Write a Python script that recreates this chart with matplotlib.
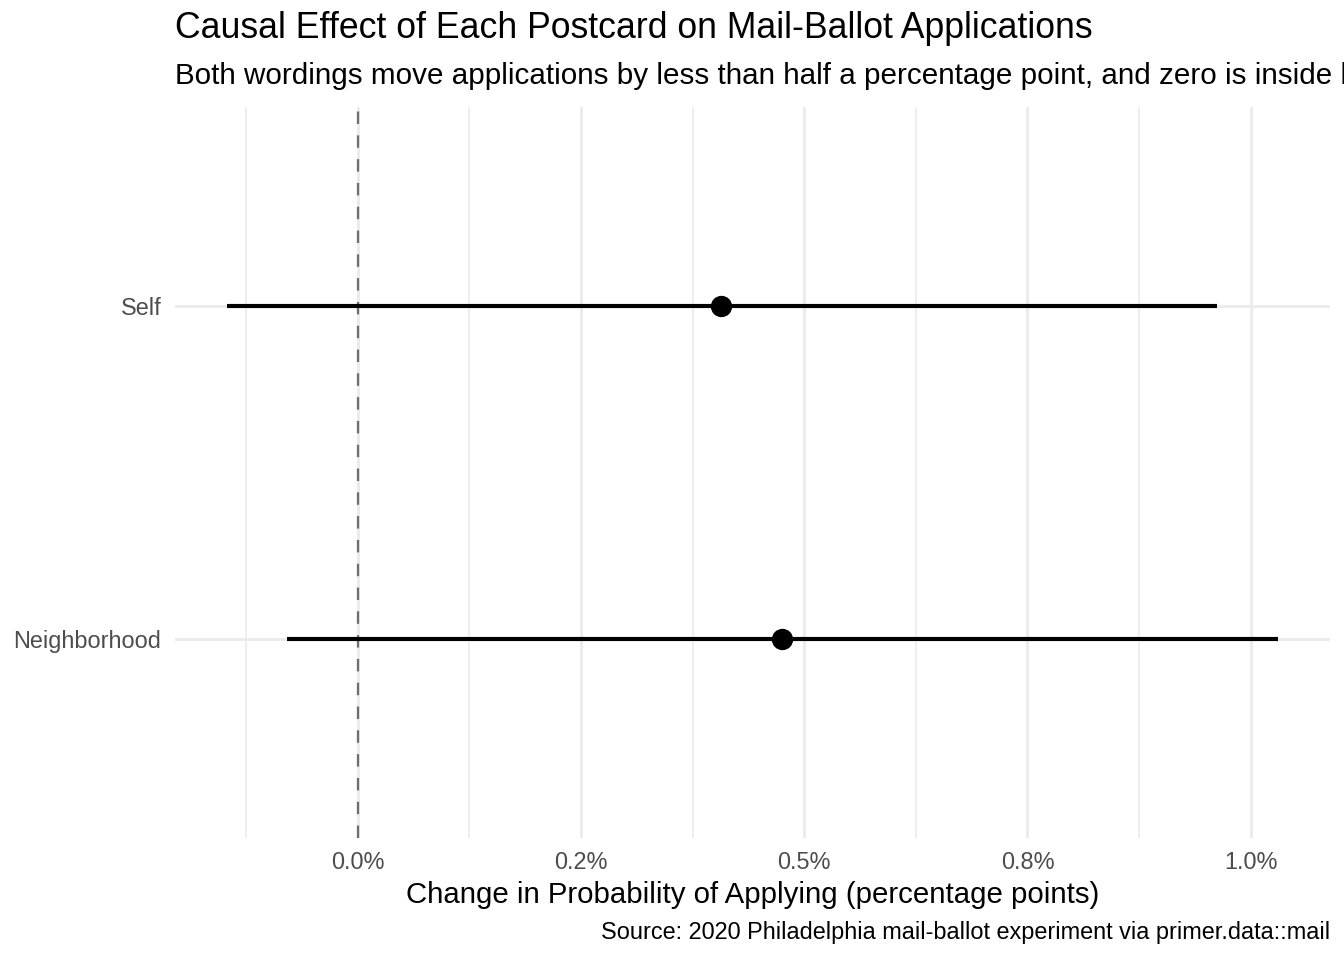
import numpy as np
import matplotlib.pyplot as plt
from matplotlib.ticker import FuncFormatter, MultipleLocator

# Estimates and 95% intervals, in percentage points
wordings = ["Neighborhood", "Self"]
estimate = [0.475, 0.407]
ci_low = [-0.079, -0.146]
ci_high = [1.030, 0.962]

plt.rcParams["font.family"] = ["Liberation Sans", "DejaVu Sans"]

fig = plt.figure(figsize=(7, 5), dpi=192)
ax = fig.add_axes([0.130, 0.127, 0.8596, 0.7615])

ypos = np.arange(1, len(wordings) + 1)

# gridlines (ggplot theme_minimal look)
ax.set_axisbelow(True)
ax.xaxis.set_major_locator(MultipleLocator(0.25))
ax.xaxis.set_minor_locator(MultipleLocator(0.125))
ax.grid(True, which="major", axis="both", color="#EBEBEB", linewidth=1.07)
ax.grid(True, which="minor", axis="x", color="#EBEBEB", linewidth=0.6)

ax.axvline(0, color="#6E6E6E", linewidth=0.85, linestyle=(0, (5.5, 5)), zorder=2)

ax.hlines(ypos, ci_low, ci_high, color="black", linewidth=1.55, zorder=3)
ax.plot(estimate, ypos, "o", color="black", markersize=7, zorder=4)

span = max(ci_high) - min(ci_low)
ax.set_xlim(min(ci_low) - 0.05 * span, max(ci_high) + 0.05 * span)
ax.set_ylim(0.4, len(wordings) + 0.6)
ax.set_yticks(ypos)
ax.set_yticklabels(wordings)
ax.xaxis.set_major_formatter(FuncFormatter(lambda v, p: f"{v:.1f}%"))

ax.tick_params(axis="both", which="both", length=0, labelsize=8.8, labelcolor="#4D4D4D")
ax.tick_params(axis="x", pad=5)
ax.tick_params(axis="y", pad=5)
for s in ax.spines.values():
    s.set_visible(False)

ax.set_xlabel("Change in Probability of Applying (percentage points)", fontsize=11, labelpad=2.5)

fig.text(175 / 1344, 1 - 29 / 960, "Causal Effect of Each Postcard on Mail-Ballot Applications",
         fontsize=13.35, ha="left", va="center")
fig.text(175 / 1344, 1 - 76 / 960,
         "Both wordings move applications by less than half a percentage point, and zero is inside both intervals",
         fontsize=11.1, ha="left", va="center")
fig.text(1330 / 1344, 1 - 932 / 960,
         "Source: 2020 Philadelphia mail-ballot experiment via primer.data::mail",
         fontsize=8.8, ha="right", va="center")

fig.savefig("out.png", dpi=192)
